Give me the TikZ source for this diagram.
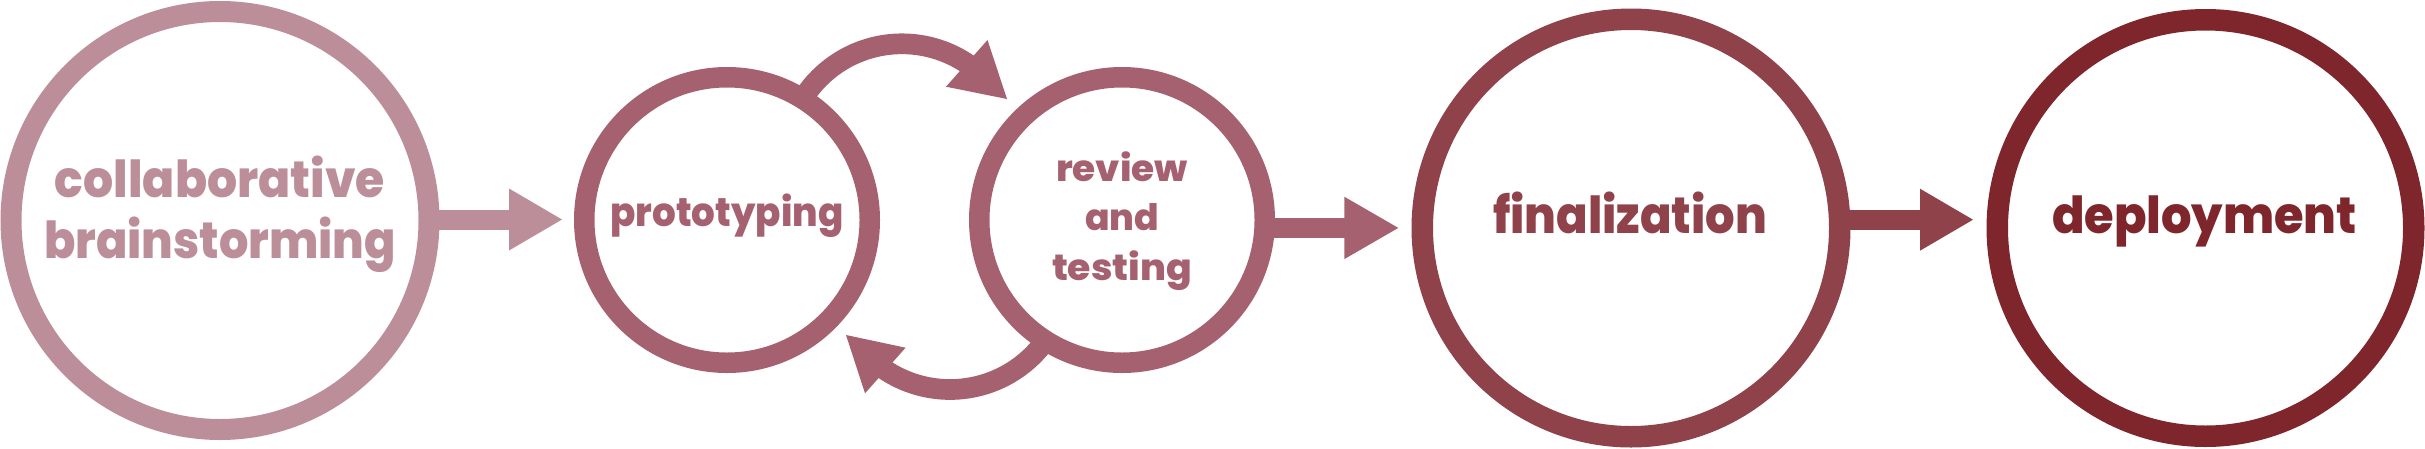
\documentclass[tikz,border=0pt]{standalone}
\usepackage{fontspec}
\setmainfont{Poppins}[BoldFont={Poppins ExtraBold}]
\usetikzlibrary{calc}
\definecolor{cA}{HTML}{BC8E99}
\definecolor{cB}{HTML}{A66170}
\definecolor{cC}{HTML}{8F424A}
\definecolor{cD}{HTML}{7F262D}
\newlength\lblw
\newcommand\fitto[2]{\settowidth{\lblw}{#2}\pgfmathsetmacro\lblsx{#1/\lblw}\scalebox{\lblsx}[1]{#2}}
\begin{document}
\begin{tikzpicture}[x=1pt,y=-1pt,
  ring/.style={circle, draw, inner sep=0pt, outer sep=0pt},
  lbl/.style={align=center, inner sep=0pt, anchor=base},
  big/.style={font=\bfseries\fontsize{51}{61}\selectfont},
  shaft/.style={line width=20pt},
  loopshaft/.style={line width=20.7pt}]
\useasboundingbox (0,0) rectangle (2425,448);
% circles
\node[ring, draw=cA, line width=21pt, minimum size=418pt] (c1) at (220,220.5) {};
\node[ring, draw=cB, line width=20.5pt, minimum size=285.5pt] (c2) at (727,220) {};
\node[ring, draw=cB, line width=20.5pt, minimum size=285.5pt] (c3) at (1122,220) {};
\node[ring, draw=cC, line width=21.5pt, minimum size=417.5pt] (c4) at (1631,228) {};
\node[ring, draw=cD, line width=21.5pt, minimum size=416.5pt] (c5) at (2205.5,228) {};
% labels
\node[lbl, big, text=cA] (t1) at ($(c1)+(0,37.8)$) {\fitto{330}{collaborative}\\\fitto{352}{brainstorming}};
\node[lbl, text=cB, font=\bfseries\fontsize{40}{48}\selectfont] (t2) at ($(c2)+(0,6.7)$) {\fitto{233}{prototyping}};
\node[lbl, text=cB, font=\bfseries\fontsize{36.5}{49.2}\selectfont] (t3) at ($(c3)+(0,60)$) {\fitto{132}{review}\\\fitto{74}{and}\\\fitto{140}{testing}};
\node[lbl, big, text=cC] (t4) at ($(c4)+(-1,5.3)$) {\fitto{274}{finalization}};
\node[lbl, big, text=cD] (t5) at ($(c5)+(-1,5.3)$) {\fitto{305}{deployment}};
% straight block arrows
\coordinate (h1) at (509,219.5);
\draw[shaft, cA] (c1.east |- h1) -- ([xshift=2pt]h1);
\fill[cA] (h1) ++(0,-31) -- ++(53,31) -- ++(-53,31) -- cycle;
\coordinate (h3) at (1344.3,227.9);
\draw[shaft, cB] (c3.east |- h3) -- ([xshift=2pt]h3);
\fill[cB] (h3) ++(0,-31.2) -- ++(54,31.2) -- ++(-54,31.2) -- cycle;
\coordinate (h4) at (1920,219.7);
\draw[shaft, cC] (c4.east |- h4) -- ([xshift=2pt]h4);
\fill[cC] (h4) ++(0,-31) -- ++(53,31) -- ++(-53,31) -- cycle;
% loop arrows between prototyping and review
\coordinate (o1) at (902,160.8);
\draw[loopshaft, cB] ($(o1)+(-150:117)$) arc[start angle=-150, end angle=-54.5, radius=117];
\coordinate (k1a) at (987.5,40);
\coordinate (k1t) at (1007,99);
\coordinate (k1b) at (946,86.7);
\fill[cB] (k1a) -- (k1t) -- (k1b) -- cycle;
\coordinate (o2) at (950,272);
\draw[loopshaft, cB] ($(o2)+(35:117.5)$) arc[start angle=35, end angle=125.3, radius=117.5];
\coordinate (k2a) at (865,393.3);
\coordinate (k2t) at (846,335);
\coordinate (k2b) at (905.6,347.7);
\fill[cB] (k2a) -- (k2t) -- (k2b) -- cycle;
\end{tikzpicture}
\end{document}
